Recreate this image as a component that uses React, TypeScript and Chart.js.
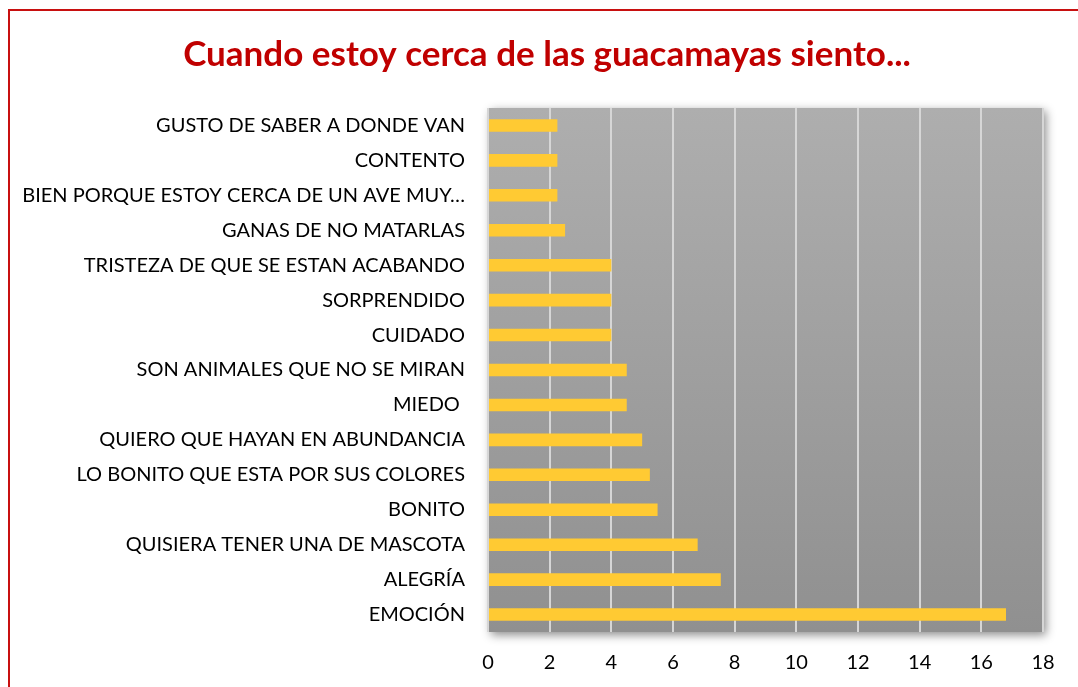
import React, { useEffect, useRef } from "react";
import { Chart, registerables } from "chart.js";

Chart.register(...registerables);

const titleText = "Cuando estoy cerca de las guacamayas siento...";

const categories = [
  "GUSTO DE SABER A DONDE VAN",
  "CONTENTO",
  "BIEN PORQUE ESTOY CERCA DE UN AVE MUY…",
  "GANAS DE NO MATARLAS",
  "TRISTEZA DE QUE SE ESTAN ACABANDO",
  "SORPRENDIDO",
  "CUIDADO",
  "SON ANIMALES QUE NO SE MIRAN",
  "MIEDO ",
  "QUIERO QUE HAYAN EN ABUNDANCIA",
  "LO BONITO QUE ESTA POR SUS COLORES",
  "BONITO",
  "QUISIERA TENER UNA DE MASCOTA",
  "ALEGRÍA",
  "EMOCIÓN",
];

const values = [2.25, 2.25, 2.25, 2.5, 4, 4, 4, 4.5, 4.5, 5, 5.25, 5.5, 6.8, 7.55, 16.8];

const xTicks = [0, 2, 4, 6, 8, 10, 12, 14, 16, 18];

const FONT = "Lato, 'Open Sans', sans-serif";

const decorPlugin = {
  id: "decor",
  beforeDraw(chart: any) {
    const { ctx, chartArea, width, height } = chart;
    const { left, top, right, bottom } = chartArea;
    ctx.save();
    ctx.fillStyle = "#ffffff";
    ctx.fillRect(0, 0, width, height);
    ctx.strokeStyle = "#C81010";
    ctx.lineWidth = 2;
    ctx.beginPath();
    ctx.moveTo(9, height + 5);
    ctx.lineTo(9, 10);
    ctx.lineTo(width + 5, 10);
    ctx.stroke();
    ctx.shadowColor = "rgba(0,0,0,0.45)";
    ctx.shadowBlur = 9;
    ctx.shadowOffsetX = 3;
    ctx.shadowOffsetY = 3;
    const g = ctx.createLinearGradient(0, top, 0, bottom);
    g.addColorStop(0, "#AEAEAE");
    g.addColorStop(1, "#909090");
    ctx.fillStyle = g;
    ctx.fillRect(left, top, right - left, bottom - top);
    ctx.restore();
  },
  afterDraw(chart: any) {
    const { ctx } = chart;
    ctx.save();
    ctx.fillStyle = "#C00000";
    ctx.font = `bold 35px ${FONT}`;
    ctx.textAlign = "center";
    ctx.textBaseline = "middle";
    ctx.fillText(titleText, 547, 55);
    ctx.restore();
  },
};

export default function App() {
  const ref = useRef<HTMLCanvasElement | null>(null);
  useEffect(() => {
    document.body.style.overflow = "hidden";
    const chart = new Chart(ref.current as HTMLCanvasElement, {
      type: "bar",
      data: {
        labels: categories,
        datasets: [
          {
            data: values,
            backgroundColor: "#FFCA33",
            borderWidth: 0,
            barPercentage: 0.9,
            categoryPercentage: 0.4,
          },
        ],
      },
      options: {
        indexAxis: "y",
        animation: false,
        responsive: false,
        devicePixelRatio: 1,
        layout: { padding: { top: 108, right: 35, bottom: 0, left: 0 } },
        plugins: {
          legend: { display: false },
          tooltip: { enabled: false },
          title: { display: false },
        },
        scales: {
          x: {
            min: 0,
            max: 18,
            afterBuildTicks(scale: any) {
              scale.ticks = xTicks.map((v) => ({ value: v }));
            },
            afterFit(scale: any) {
              scale.height = 55;
            },
            grid: {
              color: "#D6D6D6",
              lineWidth: 2,
              drawTicks: false,
            },
            border: { display: false },
            ticks: {
              padding: 19,
              color: "#000000",
              font: { family: FONT, size: 20 },
            },
          },
          y: {
            afterFit(scale: any) {
              scale.width = 488;
            },
            grid: { display: false, drawTicks: false },
            border: { display: false },
            ticks: {
              autoSkip: false,
              padding: 23,
              color: "#000000",
              font: { family: FONT, size: 20 },
            },
          },
        },
      },
      plugins: [decorPlugin],
    } as any);
    return () => chart.destroy();
  }, []);
  return (
    <canvas
      ref={ref}
      width={1078}
      height={687}
      style={{ position: "fixed", left: 0, top: 0, width: 1078, height: 687 }}
    />
  );
}
